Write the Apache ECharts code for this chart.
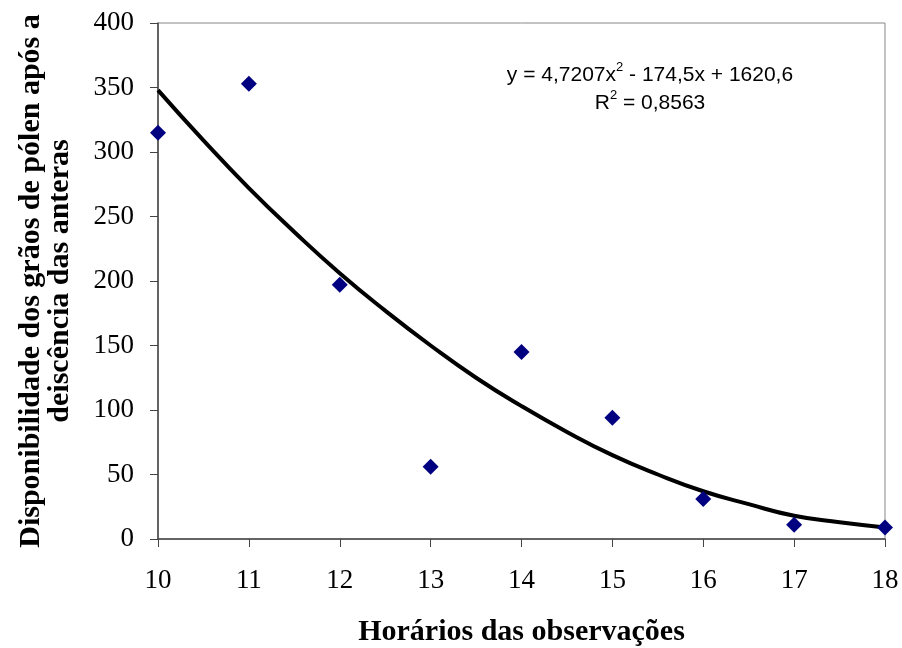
<!DOCTYPE html>
<html>
<head>
<meta charset="utf-8">
<script src="https://cdn.jsdelivr.net/npm/echarts@6/dist/echarts.min.js"></script>
<style>
  html, body { margin: 0; padding: 0; background: #fff; }
  #chart { width: 902px; height: 648px; }
</style>
</head>
<body>
<div id="chart"></div>
<script>
// horários (eixo x)
var horarios = [10, 11, 12, 13, 14, 15, 16, 17, 18]
// disponibilidade observada
var observados = [315, 353, 197, 56, 145, 94, 31, 11, 9]
var tendenciaX = [10, 10.5, 11, 11.5, 12, 12.5, 13, 13.5, 14, 14.5, 15, 15.5, 16, 16.5, 17, 17.5, 18]
var tendenciaY = [348, 309, 272, 238, 206, 177, 150, 125, 103, 83, 65, 50, 37, 27, 18, 13, 9]
var yTicks = [0, 50, 100, 150, 200, 250, 300, 350, 400]

var myChart = echarts.init(document.getElementById('chart'))
var serif = '"Liberation Serif", "Times New Roman", serif'
var sans = '"Liberation Sans", Arial, sans-serif'

myChart.setOption({
  backgroundColor: '#fff',
  animation: false,
  grid: {
    left: 158,
    right: 17,
    top: 23,
    bottom: 109,
    outerBoundsMode: 'none',
    containLabel: false,
    show: true,
    borderColor: '#888',
    borderWidth: 1
  },
  xAxis: {
    type: 'value',
    min: 10,
    max: 18,
    interval: 1,
    name: 'Horários das observações',
    nameLocation: 'middle',
    nameGap: 78,
    nameTextStyle: { fontFamily: serif, fontWeight: 'bold', fontSize: 30, color: '#000' },
    axisLine: { show: true, lineStyle: { color: '#444', width: 1.5 } },
    axisTick: { show: true, inside: false, length: 8, lineStyle: { color: '#444' } },
    axisLabel: { fontFamily: serif, fontSize: 27, color: '#000', margin: 28 },
    splitLine: { show: false }
  },
  yAxis: {
    type: 'value',
    min: yTicks[0],
    max: yTicks[yTicks.length - 1],
    interval: 50,
    name: 'Disponibilidade dos grãos de pólen após a\ndeiscência das anteras',
    nameLocation: 'middle',
    nameGap: 83,
    nameTextStyle: { fontFamily: serif, fontWeight: 'bold', fontSize: 30, color: '#000', lineHeight: 29 },
    axisLine: { show: true, lineStyle: { color: '#444', width: 1.5 } },
    axisTick: { show: true, inside: false, length: 8, lineStyle: { color: '#444' } },
    axisLabel: { fontFamily: serif, fontSize: 27, color: '#000', margin: 24 },
    splitLine: { show: false }
  },
  graphic: [{
    type: 'text',
    style: {
      x: 650,
      y: 61,
      textAlign: 'center',
      text: '{n|y = 4,7207x}{s|2}{n| - 174,5x + 1620,6}\n{n|R}{s|2}{n| = 0,8563}',
      rich: {
        n: { fontFamily: sans, fontSize: 21, color: '#000', lineHeight: 28 },
        s: { fontFamily: sans, fontSize: 13, color: '#000', verticalAlign: 'top', lineHeight: 28, padding: [0, 0, 10, 0] }
      }
    }
  }],
  series: [{
    type: 'line',
    smooth: true,
    symbol: 'none',
    data: tendenciaX.map(function (h, i) { return [h, tendenciaY[i]] }),
    lineStyle: { color: '#000', width: 4 },
    z: 2
  }, {
    type: 'scatter',
    symbol: 'diamond',
    symbolSize: 16,
    data: horarios.map(function (h, i) { return [h, observados[i]] }),
    itemStyle: { color: '#000080', opacity: 1 },
    z: 3
  }]
})
</script>
</body>
</html>
